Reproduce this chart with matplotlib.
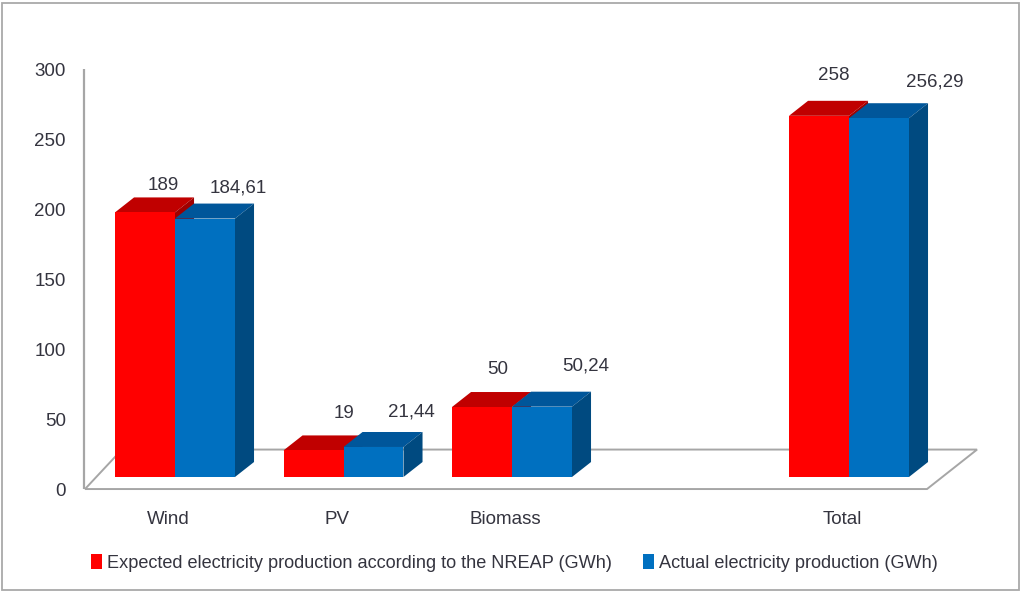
import matplotlib
matplotlib.use("Agg")
import matplotlib.pyplot as plt
from matplotlib.patches import Polygon, Rectangle, Patch
from matplotlib import font_manager

# ---- data -------------------------------------------------------------
categories = ["Wind", "PV", "Biomass", "Total"]
expected = [189, 19, 50, 258]
actual = [184.61, 21.44, 50.24, 256.29]
expected_labels = ["189", "19", "50", "258"]
actual_labels = ["184,61", "21,44", "50,24", "256,29"]
y_ticks = [0, 50, 100, 150, 200, 250, 300]
series_names = ["Expected electricity production according to the NREAP (GWh)",
                "Actual electricity production (GWh)"]

# ---- layout -------------------------------------------------------------
cat_pos = [0, 1, 2, 4]            # one empty slot before "Total"
bar_w = 0.356                     # width of one bar front face
depth_x, depth_y = 0.113, 10.7    # receding offset of bar tops / sides
front_y = -8.6                    # front edge of the floor
floor_back_y = 19.6
floor_front_x = (-0.534, 4.463)
floor_back_x = (-0.315, 4.760)
tick_shift = -10.7

# label offsets (pixels) from the centre of each bar's front top edge
exp_off = [(18, 27), (30, 37), (16, 38), (15, 40)]
act_off = [(33, 31), (38, 35), (44, 41), (56, 36)]

colors = {
    "exp": dict(front="#ff0000", top="#c00000", side="#a00000"),
    "act": dict(front="#0070c0", top="#00569a", side="#004a80"),
}
text_color = "#34343f"

avail = {f.name for f in font_manager.fontManager.ttflist}
family = "Liberation Sans Narrow" if "Liberation Sans Narrow" in avail else "Liberation Sans"
plt.rcParams["font.family"] = [family, "DejaVu Sans"]
fs = 13.5

fig = plt.figure(figsize=(10.23, 5.93), dpi=100)
ax = fig.add_axes([0, 0, 1, 1])
ax.set_xlim(-175 / 168.5, (1023 - 175) / 168.5)
ax.set_ylim((477 - 593) / 1.4, 477 / 1.4)
ax.axis("off")

# outer frame
fig.patches.append(Rectangle((2 / 1023, 3 / 593), 1017 / 1023, 587 / 593,
                             transform=fig.transFigure, fill=False,
                             edgecolor="#a9a9a9", linewidth=1.3))

# floor
floor = Polygon([(floor_front_x[0], front_y), (floor_back_x[0], floor_back_y),
                 (floor_back_x[1], floor_back_y), (floor_front_x[1], front_y)],
                closed=True, facecolor="white", edgecolor="#a6a6a6", linewidth=1.4,
                zorder=1)
ax.add_patch(floor)

# vertical axis
ax.plot([floor_front_x[0] - 0.006] * 2, [front_y, 300 + front_y], color="#a6a6a6",
        linewidth=1.6, zorder=1, solid_capstyle="butt")
for t in y_ticks:
    ax.text(-0.647, t + tick_shift, str(t), ha="right", va="center",
            fontsize=fs, color=text_color)

def draw_bar(x0, v, c, z):
    x1 = x0 + bar_w
    top = Polygon([(x0, v), (x0 + depth_x, v + depth_y), (x1 + depth_x, v + depth_y), (x1, v)],
                  closed=True, facecolor=c["top"], edgecolor="none", zorder=z)
    side = Polygon([(x1, 0), (x1 + depth_x, depth_y), (x1 + depth_x, v + depth_y), (x1, v)],
                   closed=True, facecolor=c["side"], edgecolor="none", zorder=z)
    front = Rectangle((x0, 0), bar_w, v, facecolor=c["front"], edgecolor="none", zorder=z)
    for p in (top, side, front):
        ax.add_patch(p)

for i, p in enumerate(cat_pos):
    draw_bar(p - bar_w, expected[i], colors["exp"], 2 + i * 2)
    draw_bar(p, actual[i], colors["act"], 3 + i * 2)
    for x0, v, lab, off in ((p - bar_w, expected[i], expected_labels[i], exp_off[i]),
                            (p, actual[i], actual_labels[i], act_off[i])):
        ax.annotate(lab, xy=(x0 + bar_w / 2, v), xytext=(off[0] * 0.72, off[1] * 0.72),
                    textcoords="offset points", ha="center", va="center",
                    fontsize=fs, color=text_color, zorder=20)
    ax.text(p - 0.04, -30, categories[i], ha="center", va="center",
            fontsize=fs, color=text_color)

handles = [Patch(facecolor=colors["exp"]["front"], edgecolor="none"),
           Patch(facecolor=colors["act"]["front"], edgecolor="none")]
leg = fig.legend(handles, series_names, loc="center", bbox_to_anchor=(0.503, 1 - 563 / 593),
                 ncol=2, frameon=False, fontsize=13.1, handlelength=0.6, handleheight=0.9,
                 handletextpad=0.3, columnspacing=1.7, borderpad=0)
for t in leg.get_texts():
    t.set_color(text_color)

fig.savefig("out.png", dpi=100)
